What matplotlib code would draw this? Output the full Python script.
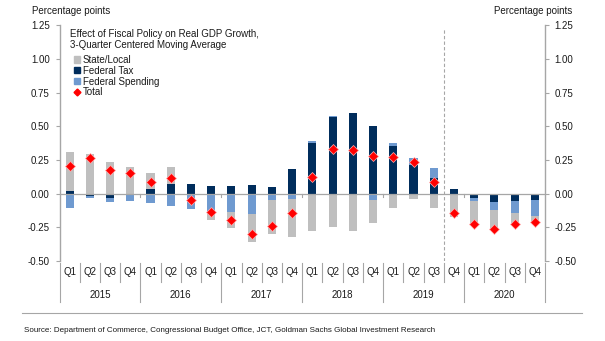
import matplotlib
matplotlib.use("Agg")
import matplotlib.pyplot as plt
from matplotlib.lines import Line2D
from matplotlib.patches import Patch
import numpy as np

plt.rcParams["font.family"] = ["Liberation Sans", "DejaVu Sans"]
plt.rcParams["axes.unicode_minus"] = False

years = ["2015", "2016", "2017", "2018", "2019", "2020"]
quarter_labels = ["Q1", "Q2", "Q3", "Q4"] * len(years)

# contributions, percentage points (3-quarter centered moving average)
federal_tax = [0.022, -0.015, -0.033, 0.0, 0.035, 0.075, 0.068, 0.057,
               0.054, 0.062, 0.052, 0.181, 0.374, 0.569, 0.599, 0.500,
               0.356, 0.210, 0.119, 0.032, -0.035, -0.064, -0.058, -0.047]
federal_spending = [-0.109, -0.017, -0.032, -0.052, -0.068, -0.088, -0.117, -0.151,
                    -0.134, -0.149, -0.047, -0.037, 0.020, 0.010, -0.010, -0.045,
                    0.022, 0.057, 0.069, 0.0, -0.020, -0.058, -0.089, -0.122]
state_local = [0.285, 0.295, 0.238, 0.200, 0.118, 0.125, 0.0, -0.047,
               -0.118, -0.212, -0.250, -0.287, -0.275, -0.248, -0.265, -0.170,
               -0.106, -0.037, -0.104, -0.176, -0.178, -0.145, -0.088, -0.046]
total = [0.205, 0.268, 0.178, 0.153, 0.085, 0.115, -0.048, -0.139,
         -0.196, -0.300, -0.243, -0.141, 0.121, 0.332, 0.327, 0.283,
         0.270, 0.233, 0.087, -0.140, -0.225, -0.262, -0.228, -0.211]

C_STATE = "#BFBFBF"
C_TAX = "#002D5C"
C_SPEND = "#6F9AD0"
C_AXIS = "#A6A6A6"
C_TEXT = "#1A1A1A"

W, H = 605, 341
fig = plt.figure(figsize=(W / 100, H / 100), dpi=100)
ax = fig.add_axes([59.5 / W, (H - 261) / H, (545 - 59.5) / W, (261 - 25.3) / H])

x = np.arange(len(quarter_labels))
pos_base = np.zeros(len(x))
neg_base = np.zeros(len(x))
# stacked separately above and below zero: tax nearest the axis, then spending, then state/local
for vals, color in [(federal_tax, C_TAX), (federal_spending, C_SPEND), (state_local, C_STATE)]:
    v = np.array(vals)
    bottom = np.where(v >= 0, pos_base, neg_base)
    ax.bar(x, v, bottom=bottom, width=0.4, color=color, zorder=2)
    pos_base += np.where(v >= 0, v, 0)
    neg_base += np.where(v < 0, v, 0)

ax.plot(x, total, linestyle="none", marker="D", markersize=5,
        markerfacecolor="#FF0000", markeredgecolor="#FFB0B0", markeredgewidth=0.5, zorder=4)

ax.set_xlim(-0.5, len(x) - 0.5)
ax.set_ylim(-0.5, 1.25)
ax.set_yticks(np.arange(-0.5, 1.26, 0.25))
ax.yaxis.set_major_formatter(matplotlib.ticker.FormatStrFormatter("%.2f"))
ax.set_xticks([])

for s in ["top", "bottom"]:
    ax.spines[s].set_visible(False)
for s in ["left", "right"]:
    ax.spines[s].set_color(C_AXIS)
    ax.spines[s].set_linewidth(1.0)
ax.tick_params(axis="y", left=True, right=True, labelleft=True, labelright=True,
               direction="out", length=3, width=0.8, color=C_AXIS,
               labelsize=7, labelcolor=C_TEXT, pad=4)

# zero line acts as the category axis, with small ticks at year boundaries
ax.axhline(0, color=C_AXIS, linewidth=0.9, zorder=3)
trans = ax.get_xaxis_transform()
zero_ax = 0.5 / 1.75
for b in np.arange(3.5, len(x) - 1, 4):
    ax.plot([b, b], [zero_ax, zero_ax - 0.015], transform=trans, color=C_AXIS,
            linewidth=0.8, zorder=3)

# 2019Q3 / 2019Q4 split
ax.axvline(18.5, ymin=0, ymax=0.985, color=C_AXIS, linestyle=(0, (3, 2)), linewidth=0.8, zorder=1)

# two-level category labels
for i, q in enumerate(quarter_labels):
    ax.text(i, -0.046, q, transform=trans, ha="center", va="center", fontsize=7, color=C_TEXT)
for i, y in enumerate(years):
    ax.text(4 * i + 1.5, -0.145, y, transform=trans, ha="center", va="center", fontsize=7, color=C_TEXT)
for b in np.arange(-0.5, len(x), 1.0):
    is_year = (b + 0.5) % 4 == 0
    ax.add_line(Line2D([b, b], [-0.008, -0.175 if is_year else -0.09], transform=trans,
                       color=C_AXIS, linewidth=0.8, clip_on=False))

ax.text(0.022, 0.984, "Effect of Fiscal Policy on Real GDP Growth,\n3-Quarter Centered Moving Average",
        transform=ax.transAxes, ha="left", va="top", fontsize=7, color=C_TEXT, linespacing=1.1)

handles = [Patch(color=C_STATE, label="State/Local"),
           Patch(color=C_TAX, label="Federal Tax"),
           Patch(color=C_SPEND, label="Federal Spending"),
           Line2D([], [], linestyle="none", marker="D", markersize=3.5,
                  markerfacecolor="#FF0000", markeredgecolor="#FF0000", label="Total")]
leg = ax.legend(handles=handles, loc="upper left", bbox_to_anchor=(74 / W, (H - 55) / H),
                bbox_transform=fig.transFigure, frameon=False, fontsize=7,
                handlelength=0.6, handleheight=0.6, handletextpad=0.3,
                labelspacing=0.08, borderpad=0, borderaxespad=0)
for t in leg.get_texts():
    t.set_color(C_TEXT)

fig.text(32 / W, (H - 11) / H, "Percentage points", ha="left", va="center", fontsize=7, color=C_TEXT)
fig.text(572 / W, (H - 11) / H, "Percentage points", ha="right", va="center", fontsize=7, color=C_TEXT)

fig.add_artist(Line2D([22 / W, 582 / W], [(H - 313) / H] * 2, transform=fig.transFigure,
                      color=C_AXIS, linewidth=0.8))
fig.text(24 / W, (H - 331) / H,
         "Source: Department of Commerce, Congressional Budget Office, JCT, Goldman Sachs Global Investment Research",
         ha="left", va="center", fontsize=5.8, color=C_TEXT)

fig.savefig("out.png", dpi=100)
